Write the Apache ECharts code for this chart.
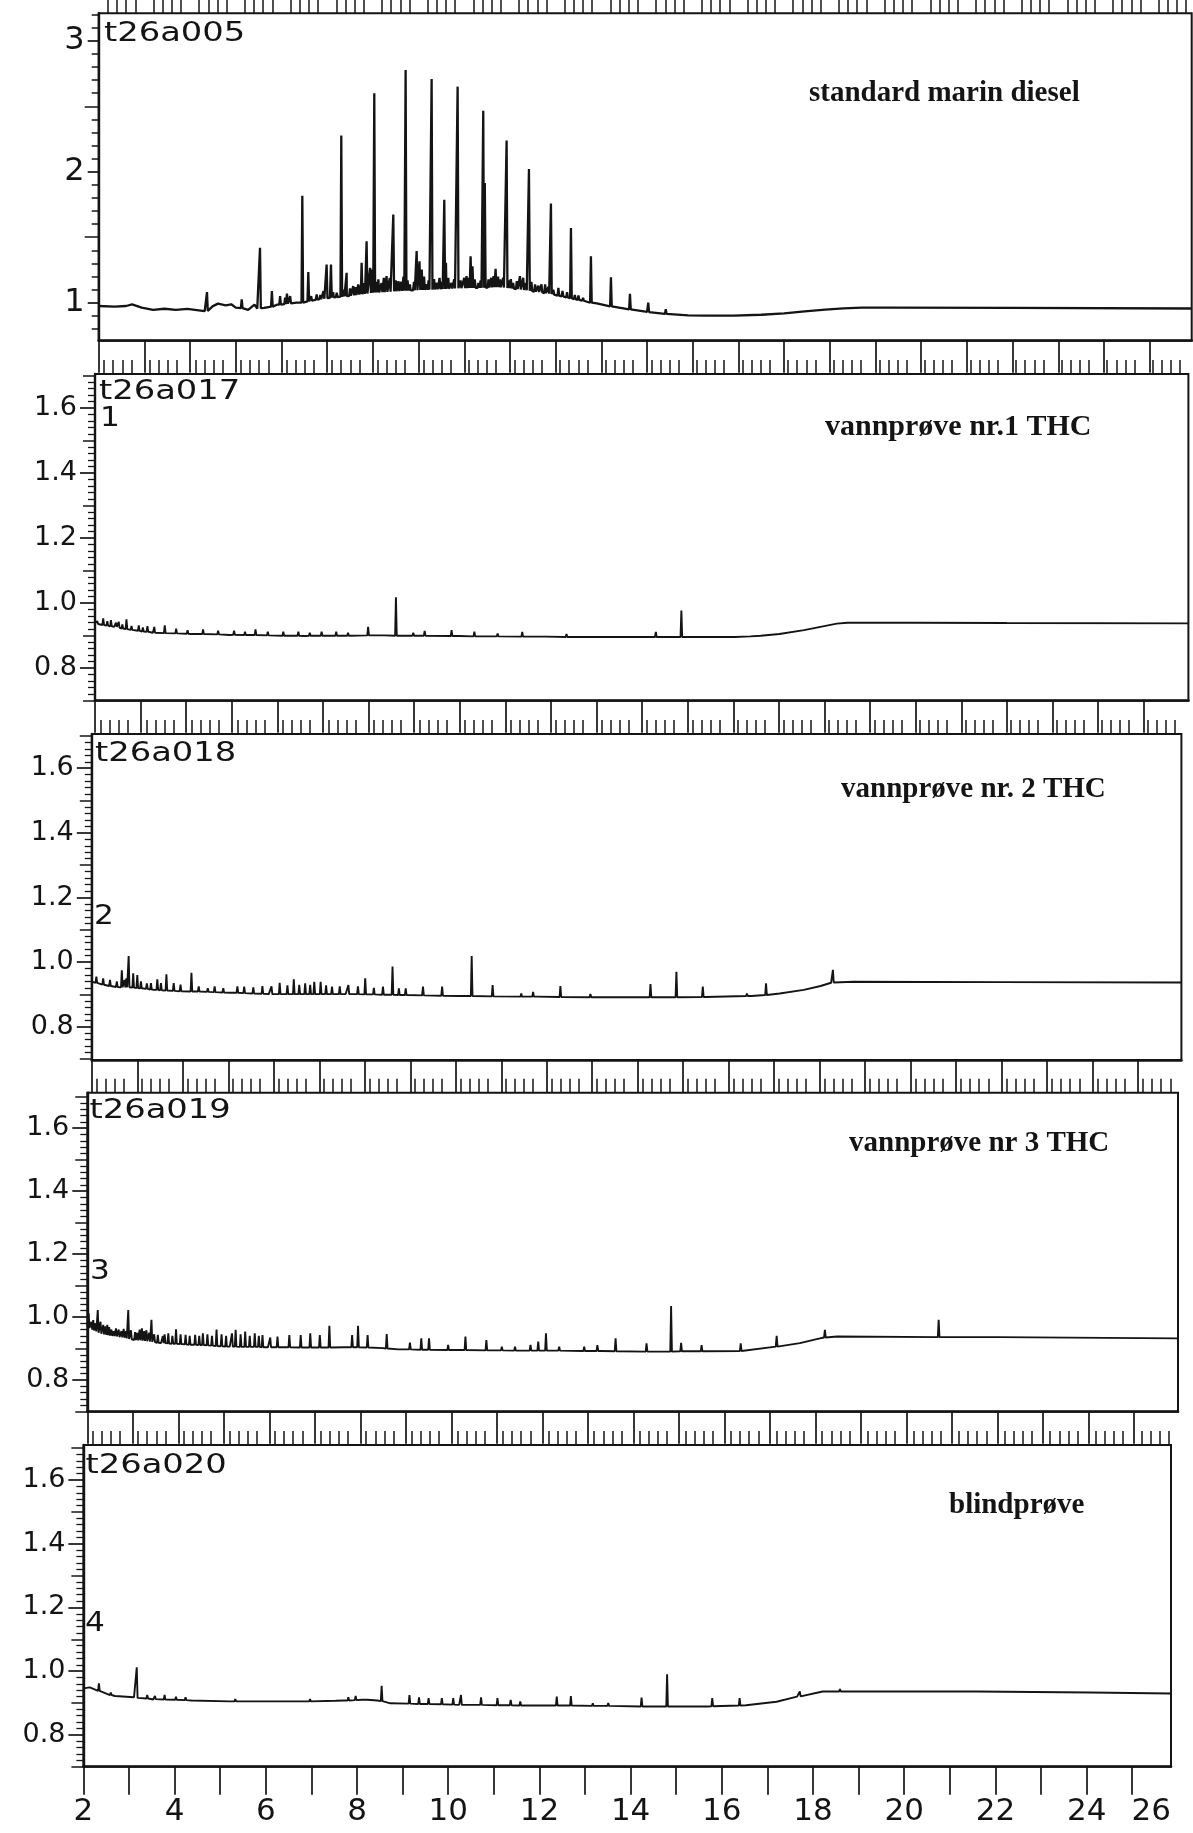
<!DOCTYPE html>
<html>
<head>
<meta charset="utf-8">
<script src="https://cdn.jsdelivr.net/npm/echarts@6/dist/echarts.min.js"></script>
<style>
  html, body { margin: 0; padding: 0; background: #fff; }
  #chart { width: 1193px; height: 1833px; }
</style>
</head>
<body>
<div id="chart"></div>
<script>
// ---- run identifiers, sample titles and marker numbers ----
const runNames = ['t26a005', 't26a017', 't26a018', 't26a019', 't26a020'];
const sampleTitles = ['standard marin diesel', 'vannprøve nr.1 THC', 'vannprøve nr. 2 THC', 'vannprøve nr 3 THC', 'blindprøve'];
const sampleMarks = ['', '1', '2', '3', '4'];

// ---- retention time axis (min) ----
const timeMin = 2;
const timeMax = [25.92, 25.98, 25.95, 25.97, 25.85];
const timeLabels = [2, 4, 6, 8, 10, 12, 14, 16, 18, 20, 22, 24, 26];

// ---- detector response axes ----
const respRange = [[0.71, 3.21], [0.70, 1.705], [0.697, 1.706], [0.699, 1.713], [0.70, 1.71]];
const respLabelsDiesel = [1, 2, 3];
const respLabelsWater = [0.8, 1.0, 1.2, 1.4, 1.6];

// ---- traces: baseline points [t, y] and peaks [t, base, apex] ----
const dieselBase = [[2.0,0.975],[2.35,0.97],[2.6,0.975],[2.73,0.987],[2.94,0.962],[3.19,0.945],[3.44,0.954],[3.69,0.945],[3.94,0.953],[4.19,0.942],[4.32,0.936],[4.49,0.972],[4.61,0.993],[4.78,0.98],[4.9,0.988],[5.0,0.962],[5.27,0.945],[5.41,0.985],[5.47,0.955],[5.62,0.96],[5.9,0.985],[6.33,1.0],[6.7,1.02],[7.06,1.038],[7.43,1.051],[7.79,1.068],[8.16,1.08],[8.52,1.088],[8.88,1.095],[9.25,1.1],[9.61,1.106],[9.98,1.112],[10.34,1.114],[10.71,1.12],[11.07,1.107],[11.44,1.09],[11.8,1.072],[12.17,1.046],[12.53,1.02],[12.9,0.995],[13.26,0.97],[13.65,0.948],[14.0,0.93],[14.45,0.913],[14.9,0.904],[15.3,0.901],[15.9,0.902],[16.5,0.908],[17.0,0.918],[17.45,0.934],[17.9,0.948],[18.3,0.957],[18.7,0.962],[19.3,0.962],[22.0,0.96],[25.92,0.956]];
const dieselPeaks = [[4.37,0.937,1.081],[5.13,0.958,1.025],[5.53,0.958,1.419],[5.79,0.97,1.089],[5.97,0.985,1.051],[6.08,0.99,1.038],[6.12,0.992,1.07],[6.19,0.995,1.051],[6.456,1.0,1.817],[6.587,1.01,1.234],[6.65,1.015,1.05],[6.77,1.024,1.063],[6.85,1.027,1.06],[6.92,1.03,1.089],[6.988,1.035,1.292],[7.083,1.04,1.292],[7.13,1.041,1.08],[7.21,1.043,1.076],[7.309,1.046,2.277],[7.36,1.048,1.10],[7.426,1.05,1.228],[7.50,1.053,1.11],[7.57,1.056,1.127],[7.62,1.059,1.12],[7.68,1.062,1.14],[7.72,1.063,1.13],[7.754,1.065,1.305],[7.81,1.067,1.15],[7.863,1.07,1.47],[7.94,1.074,1.267],[7.99,1.076,1.254],[8.031,1.078,2.599],[8.07,1.079,1.16],[8.12,1.079,1.178],[8.19,1.08,1.15],[8.24,1.081,1.19],[8.30,1.083,1.203],[8.37,1.085,1.19],[8.447,1.087,1.673],[8.50,1.088,1.17],[8.56,1.089,1.165],[8.62,1.09,1.16],[8.67,1.091,1.2],[8.717,1.092,2.777],[8.76,1.093,1.17],[8.81,1.094,1.14],[8.90,1.095,1.16],[8.958,1.096,1.394],[9.02,1.097,1.317],[9.07,1.098,1.254],[9.12,1.099,1.2],[9.18,1.099,1.14],[9.22,1.1,1.17],[9.286,1.1,2.709],[9.34,1.101,1.18],[9.40,1.102,1.152],[9.46,1.103,1.19],[9.51,1.104,1.16],[9.563,1.105,1.787],[9.60,1.106,1.305],[9.65,1.107,1.19],[9.72,1.108,1.152],[9.78,1.109,1.18],[9.855,1.11,2.65],[9.92,1.111,1.17],[10.00,1.112,1.19],[10.05,1.112,1.203],[10.10,1.113,1.19],[10.139,1.113,1.355],[10.18,1.113,1.279],[10.23,1.113,1.178],[10.31,1.114,1.152],[10.36,1.114,1.17],[10.416,1.115,2.465],[10.45,1.115,1.914],[10.53,1.116,1.178],[10.59,1.117,1.19],[10.64,1.118,1.203],[10.686,1.119,1.259],[10.74,1.119,1.2],[10.78,1.118,1.178],[10.85,1.116,1.19],[10.927,1.113,2.239],[10.98,1.111,1.17],[11.02,1.109,1.18],[11.07,1.107,1.152],[11.15,1.104,1.165],[11.219,1.101,1.203],[11.29,1.098,1.19],[11.35,1.095,1.15],[11.416,1.091,2.021],[11.47,1.089,1.16],[11.55,1.085,1.14],[11.62,1.082,1.13],[11.69,1.078,1.14],[11.77,1.074,1.14],[11.84,1.069,1.12],[11.897,1.066,1.757],[11.95,1.062,1.10],[12.06,1.054,1.114],[12.15,1.048,1.09],[12.25,1.04,1.08],[12.335,1.034,1.571],[12.42,1.028,1.06],[12.50,1.022,1.056],[12.60,1.015,1.038],[12.772,1.0,1.355],[13.21,0.973,1.195],[13.626,0.949,1.069],[14.027,0.929,1.0],[14.41,0.915,0.95]];

const water1Base = [[2.0,0.938],[2.42,0.927],[2.85,0.917],[3.27,0.909],[4.1,0.905],[4.95,0.902],[6.6,0.899],[8.3,0.901],[9.99,0.899],[11.66,0.897],[13.0,0.896],[14.0,0.896],[16.03,0.896],[16.6,0.9],[17.01,0.905],[17.55,0.917],[17.91,0.927],[18.27,0.937],[18.5,0.94],[20.0,0.94],[22.0,0.939],[25.98,0.938]];
const water1Peaks = [[2.05,0.936,0.945],[2.18,0.933,0.953],[2.27,0.931,0.945],[2.35,0.929,0.948],[2.46,0.927,0.94],[2.52,0.925,0.943],[2.60,0.922,0.935],[2.69,0.92,0.95],[2.80,0.918,0.93],[2.96,0.915,0.932],[3.05,0.913,0.925],[3.15,0.912,0.929],[3.30,0.909,0.927],[3.53,0.908,0.932],[3.78,0.907,0.922],[4.03,0.906,0.917],[4.37,0.905,0.919],[4.70,0.904,0.915],[5.05,0.903,0.915],[5.29,0.902,0.912],[5.52,0.902,0.919],[5.79,0.901,0.912],[6.13,0.9,0.912],[6.46,0.9,0.912],[6.71,0.9,0.909],[6.97,0.9,0.912],[7.29,0.9,0.912],[7.55,0.9,0.909],[7.99,0.901,0.927],[8.33,0.901,0.907],[8.60,0.9,1.018],[8.98,0.9,0.909],[9.23,0.9,0.915],[9.82,0.899,0.917],[10.32,0.898,0.912],[10.83,0.898,0.907],[11.37,0.897,0.912],[11.92,0.897,0.902],[12.34,0.896,0.905],[12.59,0.896,0.902],[13.23,0.896,0.902],[14.30,0.896,0.912],[14.86,0.896,0.977],[16.39,0.898,0.903]];

const water2Base = [[2.0,0.94],[2.45,0.924],[2.95,0.919],[3.37,0.914],[4.21,0.909],[5.05,0.905],[5.89,0.901],[7.58,0.901],[8.42,0.899],[9.26,0.897],[10.10,0.895],[11.78,0.893],[13.13,0.891],[14.0,0.891],[15.5,0.892],[16.5,0.895],[17.12,0.903],[17.65,0.914],[18.02,0.926],[18.25,0.936],[18.74,0.939],[22.0,0.938],[25.95,0.937]];
const water2Peaks = [[2.10,0.936,0.955],[2.25,0.93,0.95],[2.40,0.926,0.945],[2.55,0.923,0.94],[2.66,0.922,0.975],[2.72,0.922,0.945],[2.76,0.922,0.95],[2.81,0.922,1.019],[2.91,0.921,0.965],[3.0,0.92,0.96],[3.08,0.919,0.94],[3.21,0.917,0.934],[3.30,0.915,0.935],[3.44,0.914,0.947],[3.52,0.913,0.935],[3.64,0.912,0.962],[3.80,0.911,0.935],[3.95,0.91,0.93],[4.19,0.909,0.967],[4.35,0.909,0.925],[4.55,0.908,0.919],[4.70,0.907,0.925],[4.89,0.906,0.919],[5.20,0.905,0.925],[5.35,0.904,0.924],[5.55,0.903,0.922],[5.75,0.902,0.926],[5.95,0.901,0.925],[6.13,0.901,0.936],[6.30,0.901,0.928],[6.44,0.901,0.947],[6.56,0.901,0.93],[6.69,0.901,0.934],[6.80,0.901,0.93],[6.89,0.901,0.939],[7.03,0.901,0.939],[7.15,0.901,0.928],[7.28,0.901,0.924],[7.45,0.901,0.925],[7.64,0.901,0.929],[7.85,0.901,0.925],[8.01,0.9,0.95],[8.20,0.9,0.92],[8.40,0.899,0.924],[8.61,0.899,0.986],[8.75,0.898,0.919],[8.90,0.898,0.919],[9.28,0.897,0.924],[9.70,0.896,0.924],[10.35,0.895,1.019],[10.81,0.894,0.929],[11.44,0.893,0.903],[11.70,0.893,0.908],[12.30,0.892,0.926],[12.96,0.891,0.901],[14.28,0.891,0.932],[14.85,0.891,0.97],[15.43,0.892,0.924],[16.40,0.895,0.903],[16.82,0.898,0.934],[18.29,0.937,0.976]];

const water3Base = [[2.0,0.97],[2.27,0.948],[2.61,0.938],[3.03,0.927],[3.62,0.917],[4.29,0.912],[5.13,0.906],[5.97,0.904],[6.81,0.903],[7.66,0.904],[8.50,0.901],[8.84,0.897],[10.18,0.895],[12.17,0.893],[13.3,0.892],[14.5,0.89],[15.6,0.891],[16.4,0.892],[17.13,0.906],[17.66,0.917],[18.1,0.932],[18.25,0.938],[18.48,0.938],[22.0,0.936],[25.97,0.932]];
const water3Peaks = [[2.03,0.965,1.012],[2.09,0.96,0.985],[2.13,0.957,0.99],[2.18,0.954,0.98],[2.23,0.95,1.022],[2.29,0.947,0.985],[2.35,0.945,0.975],[2.40,0.943,0.97],[2.44,0.942,0.975],[2.48,0.941,0.968],[2.53,0.94,0.96],[2.58,0.939,0.955],[2.63,0.938,0.964],[2.69,0.936,0.96],[2.75,0.935,0.955],[2.80,0.934,0.962],[2.85,0.932,0.955],[2.90,0.93,1.022],[2.96,0.929,0.958],[3.05,0.927,0.952],[3.10,0.926,0.95],[3.15,0.926,0.96],[3.20,0.925,0.964],[3.25,0.924,0.955],[3.30,0.923,0.958],[3.36,0.922,0.95],[3.41,0.921,0.991],[3.47,0.92,0.945],[3.55,0.918,0.943],[3.66,0.917,0.94],[3.70,0.917,0.945],[3.78,0.916,0.948],[3.87,0.915,0.94],[3.95,0.915,0.961],[4.05,0.914,0.945],[4.16,0.913,0.943],[4.25,0.912,0.94],[4.37,0.912,0.943],[4.46,0.911,0.94],[4.54,0.911,0.948],[4.64,0.91,0.945],[4.74,0.909,0.94],[4.84,0.908,0.96],[4.95,0.907,0.945],[5.05,0.906,0.94],[5.18,0.906,0.948],[5.26,0.906,0.959],[5.37,0.905,0.945],[5.47,0.905,0.954],[5.57,0.905,0.94],[5.68,0.905,0.948],[5.77,0.905,0.94],[5.85,0.904,0.943],[6.02,0.904,0.935],[6.18,0.904,0.938],[6.44,0.904,0.943],[6.69,0.903,0.943],[6.90,0.903,0.948],[7.11,0.903,0.943],[7.32,0.903,0.972],[7.82,0.904,0.943],[7.95,0.904,0.972],[8.16,0.903,0.943],[8.58,0.9,0.946],[9.09,0.897,0.919],[9.34,0.896,0.932],[9.51,0.896,0.932],[9.93,0.895,0.911],[10.31,0.895,0.938],[10.77,0.894,0.927],[11.11,0.894,0.906],[11.40,0.893,0.906],[11.74,0.893,0.911],[11.91,0.893,0.922],[12.08,0.893,0.948],[12.37,0.893,0.906],[12.92,0.892,0.906],[13.21,0.892,0.911],[13.61,0.891,0.932],[14.29,0.89,0.916],[14.83,0.89,1.035],[15.05,0.891,0.918],[15.50,0.891,0.911],[16.36,0.892,0.916],[17.15,0.906,0.94],[18.21,0.935,0.959],[20.71,0.936,0.991]];

const blankBase = [[2.0,0.946],[2.14,0.949],[2.4,0.936],[2.69,0.922],[3.11,0.918],[3.53,0.911],[4.37,0.908],[5.2,0.905],[6.04,0.905],[6.88,0.905],[7.72,0.908],[8.22,0.91],[8.45,0.908],[8.73,0.899],[9.4,0.897],[10.24,0.894],[11.92,0.892],[13.26,0.891],[14.5,0.889],[15.69,0.889],[16.53,0.893],[17.2,0.904],[17.65,0.92],[18.21,0.936],[19.05,0.936],[21.57,0.936],[24.09,0.933],[25.85,0.93]];
const blankPeaks = [[2.34,0.938,0.962],[2.60,0.925,0.933],[3.17,0.916,1.012],[3.40,0.914,0.925],[3.57,0.912,0.922],[3.78,0.911,0.925],[4.03,0.91,0.92],[4.24,0.909,0.918],[5.33,0.905,0.912],[6.97,0.905,0.912],[7.55,0.907,0.912],[7.81,0.908,0.918],[7.97,0.909,0.922],[8.14,0.91,0.915],[8.54,0.906,0.954],[9.15,0.898,0.925],[9.36,0.897,0.918],[9.57,0.897,0.915],[9.86,0.896,0.915],[10.11,0.895,0.915],[10.28,0.894,0.925],[10.72,0.894,0.918],[11.08,0.893,0.915],[11.37,0.893,0.91],[11.58,0.892,0.905],[12.38,0.892,0.92],[12.69,0.892,0.922],[13.17,0.891,0.899],[13.51,0.891,0.9],[14.24,0.889,0.917],[14.80,0.889,0.99],[15.79,0.89,0.915],[16.39,0.892,0.915],[17.71,0.921,0.936],[18.59,0.936,0.944]];

const traceBases = [dieselBase, water1Base, water2Base, water3Base, blankBase];
const tracePeaks = [dieselPeaks, water1Peaks, water2Peaks, water3Peaks, blankPeaks];

// ---- layout of the five stacked panels (px) ----
const panelBox = [
  { left: 98.7, top: 13.3,   right: 1191.7, bottom: 340.7 },
  { left: 95.0, top: 374.0,  right: 1188.4, bottom: 700.7 },
  { left: 91.8, top: 734.0,  right: 1181.4, bottom: 1060.0 },
  { left: 87.3, top: 1092.7, right: 1178.0, bottom: 1411.7 },
  { left: 83.4, top: 1445.0, right: 1171.0, bottom: 1766.7 }
];
const runLabelPos = [[104, 20.5], [99, 378.5], [95, 740], [89.5, 1097], [85.5, 1452]];
const markPos = [null, [100, 406], [94, 904], [90, 1259], [85, 1611]];
const titlePos = [[809, 79], [825, 412.5], [841, 775], [849, 1129], [949, 1491]];
const titleSize = [29, 30, 29, 29, 29];

const INK = '#141414';
const halfWidth = 0.018;

// merge baseline samples with the peak spikes into one ordered polyline
function buildTrace(base, peaks) {
  const pts = base.map(p => [p[0], p[1]]);
  peaks.forEach(([t, b, apex]) => {
    pts.push([t - halfWidth, b], [t, apex], [t + halfWidth, b]);
  });
  return pts.sort((a, c) => a[0] - c[0]);
}

function steps(from, to, step, skipEvery) {
  const out = [];
  const n = Math.round((to - from) / step);
  for (let k = 0; k <= n; k++) {
    const v = +(from + k * step).toFixed(4);
    if (skipEvery && Math.abs(v / skipEvery - Math.round(v / skipEvery)) < 1e-6) continue;
    out.push(v);
  }
  return out;
}

const grids = [], xAxes = [], yAxes = [], series = [], graphics = [];

panelBox.forEach((b, i) => {
  grids.push({
    left: b.left, top: b.top, width: b.right - b.left, height: b.bottom - b.top,
    show: true, borderColor: INK, borderWidth: 2, backgroundColor: 'transparent',
    containLabel: false, outerBoundsMode: 'none'
  });

  const xMax = timeMax[i];
  const isLast = i === panelBox.length - 1;
  const majorLen = isLast ? 28 : 32;
  // whole-minute ticks and labels
  xAxes.push({
    gridIndex: i, type: 'value', min: timeMin, max: xMax,
    axisLine: { show: true, onZero: false, lineStyle: { color: INK, width: 2.6 } },
    axisTick: { show: true, inside: false, length: majorLen, customValues: steps(2, 25, 1),
                lineStyle: { color: INK, width: 1.7 } },
    axisLabel: isLast ? {
      show: true, customValues: timeLabels.map(v => Math.min(v, xMax)),
      formatter: v => String(Math.round(v)),
      margin: 30, fontFamily: 'DejaVu Sans', fontSize: 31, color: INK,
      alignMaxLabel: 'right'
    } : { show: false },
    splitLine: { show: false }
  });
  // 0.2 min ticks
  xAxes.push({
    gridIndex: i, type: 'value', min: timeMin, max: xMax,
    axisLine: { show: false },
    axisTick: { show: true, inside: false, length: 14, customValues: steps(2, 25.8, 0.2, 1),
                lineStyle: { color: INK, width: 1.5 } },
    axisLabel: { show: false }, splitLine: { show: false }
  });

  const [lo, hi] = respRange[i];
  const baseY = { gridIndex: i, type: 'value', min: lo, max: hi, position: 'left',
                  splitLine: { show: false } };
  if (i === 0) {
    yAxes.push(Object.assign({}, baseY, {
      axisLine: { show: true, onZero: false, lineStyle: { color: INK, width: 2.4 } },
      axisTick: { show: true, length: 11, customValues: respLabelsDiesel, lineStyle: { color: INK, width: 1.7 } },
      axisLabel: { show: true, customValues: respLabelsDiesel, formatter: v => String(v),
                   margin: 14, fontFamily: 'DejaVu Sans', fontSize: 32, color: INK }
    }));
    yAxes.push(Object.assign({}, baseY, {
      axisLine: { show: false },
      axisTick: { show: true, length: 14, customValues: [1.5, 2.5], lineStyle: { color: INK, width: 1.5 } },
      axisLabel: { show: false }
    }));
    yAxes.push(Object.assign({}, baseY, {
      axisLine: { show: false },
      axisTick: { show: true, length: 7, customValues: steps(0.8, 3.2, 0.1, 0.5), lineStyle: { color: INK, width: 1.5 } },
      axisLabel: { show: false }
    }));
  } else {
    yAxes.push(Object.assign({}, baseY, {
      axisLine: { show: true, onZero: false, lineStyle: { color: INK, width: 2.4 } },
      axisTick: { show: true, length: 15, customValues: respLabelsWater, lineStyle: { color: INK, width: 1.7 } },
      axisLabel: { show: true, customValues: respLabelsWater, formatter: v => v.toFixed(1),
                   margin: 18, fontFamily: 'DejaVu Sans', fontSize: 27, color: INK }
    }));
    yAxes.push(Object.assign({}, baseY, {
      axisLine: { show: false },
      axisTick: { show: true, length: 12, customValues: [0.7, 0.9, 1.1, 1.3, 1.5, 1.7].filter(v => v >= lo && v <= hi),
                  lineStyle: { color: INK, width: 1.5 } },
      axisLabel: { show: false }
    }));
    yAxes.push(Object.assign({}, baseY, {
      axisLine: { show: false },
      axisTick: { show: true, length: 7, customValues: steps(0.72, 1.7, 0.02, 0.1).filter(v => v >= lo && v <= hi),
                  lineStyle: { color: INK, width: 1.3 } },
      axisLabel: { show: false }
    }));
  }

  series.push({
    type: 'line', xAxisIndex: i * 2, yAxisIndex: i * 3,
    data: buildTrace(traceBases[i], tracePeaks[i]),
    showSymbol: false, symbol: 'none', smooth: false, clip: true,
    lineStyle: { color: INK, width: i === 0 ? 2.3 : 1.9 },
    silent: true
  });

  graphics.push({
    type: 'text', x: runLabelPos[i][0], y: runLabelPos[i][1], scaleX: 1.25, scaleY: 1,
    style: { text: runNames[i], font: '27px "DejaVu Sans"', fill: INK, align: 'left', verticalAlign: 'top' }
  });
  if (sampleMarks[i]) {
    graphics.push({
      type: 'text', x: markPos[i][0], y: markPos[i][1], scaleX: 1.2, scaleY: 1,
      style: { text: sampleMarks[i], font: '26px "DejaVu Sans"', fill: INK, align: 'left', verticalAlign: 'top' }
    });
  }
  graphics.push({
    type: 'text', x: titlePos[i][0], y: titlePos[i][1],
    style: { text: sampleTitles[i], font: 'bold ' + titleSize[i] + 'px "Liberation Serif"', fill: INK,
             align: 'left', verticalAlign: 'top' }
  });
});

const chart = echarts.init(document.getElementById('chart'), null, { renderer: 'canvas' });
chart.setOption({
  animation: false,
  backgroundColor: '#ffffff',
  grid: grids,
  xAxis: xAxes,
  yAxis: yAxes,
  series: series,
  graphic: graphics
});
</script>
</body>
</html>
